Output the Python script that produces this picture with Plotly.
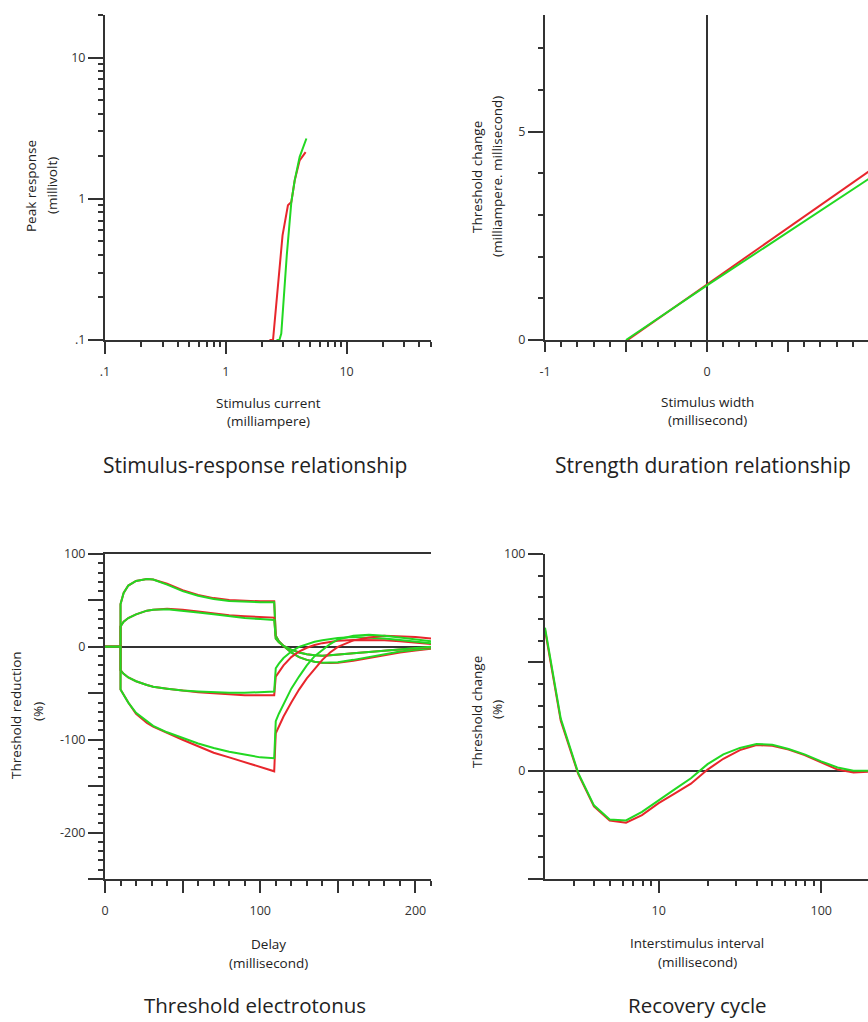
import math
import plotly.graph_objects as go

# ---------------- data ----------------
# Stimulus-response
sr_current_red = [2.3, 2.46, 2.95, 3.27, 3.49, 3.72, 4.09, 4.58]
sr_peak_red = [0.1, 0.1, 0.55, 0.90, 0.95, 1.35, 1.87, 2.14]
sr_current_green = [2.63, 2.78, 2.88, 3.2, 3.49, 3.72, 4.09, 4.65]
sr_peak_green = [0.1, 0.1, 0.111, 0.4, 0.95, 1.35, 1.98, 2.67]

# Strength-duration
sd_width_red = [-0.49, 0.0, 1.0]
sd_charge_red = [0.0, 1.33, 4.05]
sd_width_green = [-0.5, 0.0, 1.0]
sd_charge_green = [0.0, 1.31, 3.87]

# Threshold electrotonus
te_delay = [0, 10, 10, 12, 15, 20, 27, 31, 40, 50, 60, 70, 80, 90, 100, 109, 110,
            112, 115, 120, 125, 130, 135, 140, 145, 150, 160, 170, 180, 190, 200, 210]
ted40_red = [0, 0, 46, 58, 66, 71, 73, 72.5, 68, 61, 56, 52.5, 50.5, 49.5, 49, 49, 12,
             6, 1, -6, -11, -14, -16, -17, -17.5, -17, -15, -12, -9, -6, -4, -2]
ted40_green = [0, 0, 46, 58, 66, 71, 73, 72.5, 67, 60, 55, 51.5, 49.5, 48.5, 48, 48, 12,
               6, 1, -6, -11, -14, -16, -17, -17, -16.5, -14, -11, -8, -5, -3, -1.5]
ted20_red = [0, 0, 22, 27, 31, 35, 39, 40, 41, 40, 38, 36, 34, 33, 32, 31.5, 9,
             5, 1, -3, -6, -8, -9, -9.5, -9, -8.5, -7, -5.5, -4, -2.5, -1.5, -0.5]
ted20_green = [0, 0, 22, 27, 31, 35, 39, 40, 40.5, 39, 37, 35, 33, 31, 30, 29, 9,
               5, 1, -3, -6, -8, -9, -9.5, -9, -8.5, -7, -5.5, -4, -2.5, -1.5, 0]
teh20_red = [0, 0, -25, -29, -33, -37, -41, -43, -45, -47, -49, -50, -51, -52, -52, -52, -32,
             -27, -20, -11, -5, -1, 2, 4, 5.5, 6.5, 7.5, 7.5, 7, 6, 4.5, 3]
teh20_green = [0, 0, -25, -29, -33, -37, -41, -43, -45, -47, -48, -49, -49.5, -49.5, -49, -48, -23,
               -18, -12, -5, 0, 3, 5.5, 7, 8.5, 9.5, 10.5, 10, 9, 7.5, 6, 4]
teh40_red = [0, 0, -46, -52, -60, -72, -82, -86, -93, -100, -107, -114, -119, -124, -129, -134, -93,
             -85, -75, -60, -46, -34, -24, -14, -6, 0, 7, 10, 12, 11.5, 10.5, 9]
teh40_green = [0, 0, -46, -52, -60, -71, -80, -85, -92, -98, -104, -109, -113, -116, -119, -120, -80,
               -72, -62, -45, -32, -20, -10, -3, 3, 8, 12, 13, 12, 10, 8, 6]

# Recovery cycle
rc_interval = [2, 2.5, 3.2, 4, 5, 6.3, 7.9, 10, 12.6, 15.8, 20, 25, 31.6, 40, 50, 63, 79, 100, 126, 158, 200]
rc_red = [65, 23, -1.5, -16.5, -23, -24, -20.5, -15, -10.5, -6, 0.5, 5.5, 9.5, 11.8, 11.5, 9.7, 7.2, 4, 0.5, -0.8, -0.5]
rc_green = [66, 24, -1, -16, -22.5, -23, -19, -13.5, -8.5, -3.5, 3, 7.5, 10.5, 12.3, 12, 10, 7.5, 4.3, 1.5, 0, 0]

# tick values
log_minor_x = [0.2, 0.3, 0.4, 0.5, 0.6, 0.7, 0.8, 0.9, 2, 3, 4, 5, 6, 7, 8, 9, 20, 30, 40, 50]
log_minor_y = [0.2, 0.3, 0.4, 0.5, 0.6, 0.7, 0.8, 0.9, 2, 3, 4, 5, 6, 7, 8, 9, 20]
rc_minor = [3, 4, 5, 6, 7, 8, 9, 20, 30, 40, 50, 60, 70, 80, 90, 200]

# ---------------- style ----------------
W, H = 868, 1022
RED = "#e8262c"
GREEN = "#22d822"
AX = "#333333"
FONT = "Open Sans"


def px(x):
    return x / W


def py(y):
    return 1 - y / H


fig = go.Figure()


def add_pair(xr, yr, xg, yg, xa, ya):
    fig.add_trace(go.Scatter(x=xr, y=yr, mode="lines", line=dict(color=RED, width=2),
                             xaxis=xa, yaxis=ya, showlegend=False, hoverinfo="skip"))
    fig.add_trace(go.Scatter(x=xg, y=yg, mode="lines", line=dict(color=GREEN, width=2),
                             xaxis=xa, yaxis=ya, showlegend=False, hoverinfo="skip"))


add_pair(sr_current_red, sr_peak_red, sr_current_green, sr_peak_green, "x", "y")
add_pair(sd_width_red, sd_charge_red, sd_width_green, sd_charge_green, "x2", "y2")
for r, g in [(ted40_red, ted40_green), (ted20_red, ted20_green),
             (teh20_red, teh20_green), (teh40_red, teh40_green)]:
    add_pair(te_delay, r, te_delay, g, "x3", "y3")
add_pair(rc_interval, rc_red, rc_interval, rc_green, "x4", "y4")

common = dict(showline=True, linecolor=AX, linewidth=2, ticks="outside", tickcolor=AX,
              tickwidth=2, showgrid=False, zeroline=False, automargin=False,
              tickfont=dict(family=FONT, size=12.5, color="#333"))


def minor(vals=None, dtick=None):
    d = dict(ticks="outside", ticklen=5, tickcolor=AX, tickwidth=1.5, showgrid=False)
    if vals is not None:
        d["tickvals"] = vals
    if dtick is not None:
        d["dtick"] = dtick
    return d


top_dom = [py(340), py(15)]
bot_dom = [py(879), py(554)]
left_dom = [px(105), px(431)]
right_dom = [px(545), 1.0]

fig.update_layout(
    template="none",
    width=W, height=H, margin=dict(l=0, r=0, t=0, b=0, autoexpand=False),
    paper_bgcolor="white", plot_bgcolor="white",
    xaxis=dict(common, domain=left_dom, anchor="y", type="log",
               range=[-1, math.log10(50)], tickmode="array", tickvals=[0.1, 1, 10],
               ticktext=[".1", "1", "10"], ticklen=12, ticklabelstandoff=7,
               minor=minor(vals=log_minor_x)),
    yaxis=dict(common, domain=top_dom, anchor="x", type="log",
               range=[-1, math.log10(20)], tickmode="array", tickvals=[0.1, 1, 10],
               ticktext=[".1", "1", "10"], ticklen=15, minor=minor(vals=log_minor_y)),
    xaxis2=dict(common, domain=right_dom, anchor="y2", range=[-1, 0.994],
                tickmode="array", tickvals=[-1, -0.5, 0, 0.5, 1],
                ticktext=["-1", "", "0", "", "1"], ticklen=10, ticklabelstandoff=9,
                zeroline=True, zerolinecolor=AX, zerolinewidth=2,
                minor=minor(dtick=0.1)),
    yaxis2=dict(common, domain=top_dom, anchor="x2", range=[0, 7.8],
                tickmode="array", tickvals=[0, 5], ticktext=["0", "5"], ticklen=15,
                minor=minor(dtick=1)),
    xaxis3=dict(common, domain=left_dom, anchor="y3", range=[0, 210],
                tickmode="array", tickvals=[0, 50, 100, 150, 200],
                ticktext=["0", "", "100", "", "200"], ticklen=12, ticklabelstandoff=7,
                mirror=True, minor=minor(dtick=10)),
    yaxis3=dict(common, domain=bot_dom, anchor="x3", range=[-250, 100],
                tickmode="array", tickvals=[-250, -200, -150, -100, -50, 0, 50, 100],
                ticktext=["", "-200", "", "-100", "", "0", "", "100"], ticklen=15,
                zeroline=True, zerolinecolor=AX, zerolinewidth=2,
                minor=minor(dtick=10)),
    xaxis4=dict(common, domain=right_dom, anchor="y4", type="log",
                range=[math.log10(2), math.log10(194)], tickmode="array",
                tickvals=[10, 100], ticktext=["10", "100"], ticklen=12,
                ticklabelstandoff=7, minor=minor(vals=rc_minor)),
    yaxis4=dict(common, domain=bot_dom, anchor="x4", range=[-50, 100],
                tickmode="array", tickvals=[-50, 0, 50, 100],
                ticktext=["", "0", "", "100"], ticklen=15,
                zeroline=True, zerolinecolor=AX, zerolinewidth=2,
                minor=minor(dtick=10)),
)


def label(text, x, y, size=13.5, angle=0):
    fig.add_annotation(text=text, x=px(x), y=py(y), xref="paper", yref="paper",
                       showarrow=False, xanchor="center", yanchor="middle",
                       textangle=angle, borderpad=0,
                       font=dict(family=FONT, size=size, color="#222"))


# x-axis titles
label("Stimulus current", 268, 403)
label("(milliampere)", 268, 421)
label("Stimulus width", 707, 402)
label("(millisecond)", 707, 420)
label("Delay", 268, 944)
label("(millisecond)", 268, 963)
label("Interstimulus interval", 697, 943)
label("(millisecond)", 697, 962)

# y-axis titles
label("Peak response", 31, 186, angle=-90)
label("(millivolt)", 52, 186, angle=-90)
label("Threshold change", 477, 177, angle=-90)
label("(milliampere. millisecond)", 497, 177, angle=-90)
label("Threshold reduction", 16, 715, angle=-90)
label("(%)", 38, 712, angle=-90)
label("Threshold change", 477, 712, angle=-90)
label("(%)", 497, 710, angle=-90)

# panel titles
label("Stimulus-response relationship", 255, 465, size=21)
label("Strength duration relationship", 703, 465, size=21)
label("Threshold electrotonus", 255, 1005, size=20.5)
label("Recovery cycle", 697, 1005, size=20.5)

fig.write_html("out.html", config={"displayModeBar": False},
               post_script="document.body.style.margin='0';document.body.style.overflow='hidden';")
